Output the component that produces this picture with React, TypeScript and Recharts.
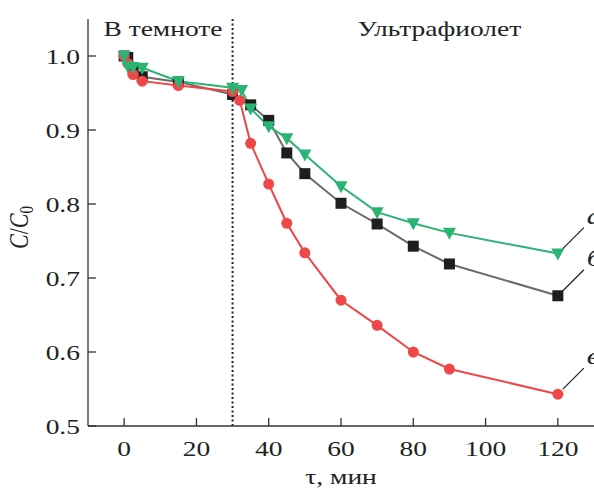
import React from 'react';
import { LineChart, Line, XAxis, YAxis, ReferenceLine, Label } from 'recharts';

const FONT = '"Liberation Serif", "Times New Roman", serif';
const STRETCH = 'scale(1.25,1)';

const X_TICKS = [0, 20, 40, 60, 80, 100, 120];
const Y_TICKS = [0.5, 0.6, 0.7, 0.8, 0.9, 1.0];
const LIGHT_ON = 30;

// series а (green triangles)
const timeA = [0, 1, 2.5, 5, 15, 30, 32.5, 35, 40, 45, 50, 60, 70, 80, 90, 120];
const ratioA = [1.0, 0.986, 0.985, 0.984, 0.966, 0.957, 0.954, 0.929, 0.905, 0.889, 0.867, 0.824, 0.789, 0.774, 0.761, 0.733];

// series б (black squares)
const timeB = [0, 1, 2.5, 5, 15, 30, 35, 40, 45, 50, 60, 70, 80, 90, 120];
const ratioB = [1.0, 0.998, 0.98, 0.972, 0.965, 0.948, 0.934, 0.913, 0.869, 0.841, 0.801, 0.773, 0.743, 0.719, 0.676];

// series в (red circles)
const timeV = [0, 1, 2.5, 5, 15, 30, 32, 35, 40, 45, 50, 60, 70, 80, 90, 120];
const ratioV = [1.0, 0.99, 0.975, 0.966, 0.96, 0.952, 0.94, 0.882, 0.827, 0.774, 0.734, 0.67, 0.636, 0.6, 0.577, 0.543];

const toRows = (t: number[], c: number[]) => t.map((x, i) => ({ t: x, c: c[i] }));

const XTick: React.FC<any> = ({ x, y, payload }) => (
    <g>
        <line x1={x} x2={x} y1={y} y2={y - 8} stroke="#333" strokeWidth={1.3} />
        <text transform={`translate(${x},${y + 30}) ${STRETCH}`} textAnchor="middle"
            fontFamily={FONT} fontSize={22} fill="#222">{payload.value}</text>
    </g>
);

const YTick: React.FC<any> = ({ x, y, payload }) => (
    <g>
        <line x1={x} x2={x + 8} y1={y} y2={y} stroke="#333" strokeWidth={1.3} />
        <text transform={`translate(${x - 8},${y + 7.5}) ${STRETCH}`} textAnchor="end"
            fontFamily={FONT} fontSize={22} fill="#222">{Number(payload.value).toFixed(1)}</text>
    </g>
);

const square = (color: string) => (p: any) => (
    <rect key={`s-${p.index}`} x={p.cx - 5.5} y={p.cy - 5.5} width={11} height={11} fill={color} />
);
const circle = (color: string) => (p: any) => (
    <circle key={`c-${p.index}`} cx={p.cx} cy={p.cy} r={5.5} fill={color} />
);
const triangle = (color: string) => (p: any) => (
    <path key={`t-${p.index}`} d={`M${p.cx - 6.5},${p.cy - 5} L${p.cx + 6.5},${p.cy - 5} L${p.cx},${p.cy + 7} Z`} fill={color} />
);

// leader line + italic letter at the last point of a series
const endTag = (letter: string, count: number) => (p: any) => {
    if (p.index !== count - 1) return null;
    return (
        <g key={`tag-${letter}`}>
            <line x1={p.x + 5} y1={p.y - 5} x2={p.x + 26} y2={p.y - 26} stroke="#222" strokeWidth={1.2} />
            <text transform={`translate(${p.x + 29},${p.y - 30}) ${STRETCH}`} fontFamily={FONT}
                fontStyle="italic" fontSize={24} fill="#222">{letter}</text>
        </g>
    );
};

const PhaseTitles: React.FC<any> = ({ viewBox }) => (
    <g fontFamily={FONT} fontSize={22} fill="#222">
        <text transform={`translate(${viewBox.x - 10},${viewBox.y + 17}) ${STRETCH}`} textAnchor="end">В темноте</text>
        <text transform={`translate(${viewBox.x + 125},${viewBox.y + 17}) ${STRETCH}`}>Ультрафиолет</text>
    </g>
);

const XTitle: React.FC<any> = ({ viewBox }) => (
    <text transform={`translate(${viewBox.x + viewBox.width / 2},${viewBox.y + 58}) ${STRETCH}`}
        textAnchor="middle" fontFamily={FONT} fontSize={22} fill="#222">τ, мин</text>
);

const YTitle: React.FC<any> = ({ viewBox }) => (
    <text transform={`translate(${viewBox.x - 20},${viewBox.y + viewBox.height / 2 + 5}) ${STRETCH} rotate(-90)`}
        textAnchor="middle" fontFamily={FONT} fontSize={22} fill="#222">
        <tspan fontStyle="italic">C</tspan>/<tspan fontStyle="italic">C</tspan>
        <tspan fontSize={15} dy={4}>0</tspan>
    </text>
);

const App: React.FC = () => {
    return (
        <div style={{ position: 'absolute', left: 0, top: 0, width: 594, height: 490, background: '#fff' }}>
            <LineChart width={594} height={490} margin={{ top: 19, right: 0, bottom: 34, left: 48 }}>
                <XAxis type="number" dataKey="t" domain={[-10, 130]} ticks={X_TICKS} allowDataOverflow
                    height={30} tickSize={0} tickMargin={0} tick={<XTick />}
                    axisLine={{ stroke: '#333', strokeWidth: 1.3 }} tickLine={false}>
                    <Label content={<XTitle />} />
                </XAxis>
                <YAxis type="number" domain={[0.5, 1.05]} ticks={Y_TICKS} allowDataOverflow
                    width={40} tickSize={0} tickMargin={0} tick={<YTick />}
                    axisLine={{ stroke: '#333', strokeWidth: 1.3 }} tickLine={false}>
                    <Label content={<YTitle />} />
                </YAxis>
                <ReferenceLine x={LIGHT_ON} stroke="#222" strokeWidth={2} strokeDasharray="2 2.5">
                    <Label content={<PhaseTitles />} />
                </ReferenceLine>
                <Line data={toRows(timeB, ratioB)} dataKey="c" stroke="#6b6b6b" strokeWidth={2}
                    dot={square('#1e1e1e')} activeDot={false} isAnimationActive={false}
                    label={endTag('б', timeB.length)} />
                <Line data={toRows(timeV, ratioV)} dataKey="c" stroke="#ee4646" strokeWidth={2}
                    dot={circle('#ef4848')} activeDot={false} isAnimationActive={false}
                    label={endTag('в', timeV.length)} />
                <Line data={toRows(timeA, ratioA)} dataKey="c" stroke="#2bb374" strokeWidth={2}
                    dot={triangle('#2bb374')} activeDot={false} isAnimationActive={false}
                    label={endTag('а', timeA.length)} />
            </LineChart>
        </div>
    );
};

export default App;
